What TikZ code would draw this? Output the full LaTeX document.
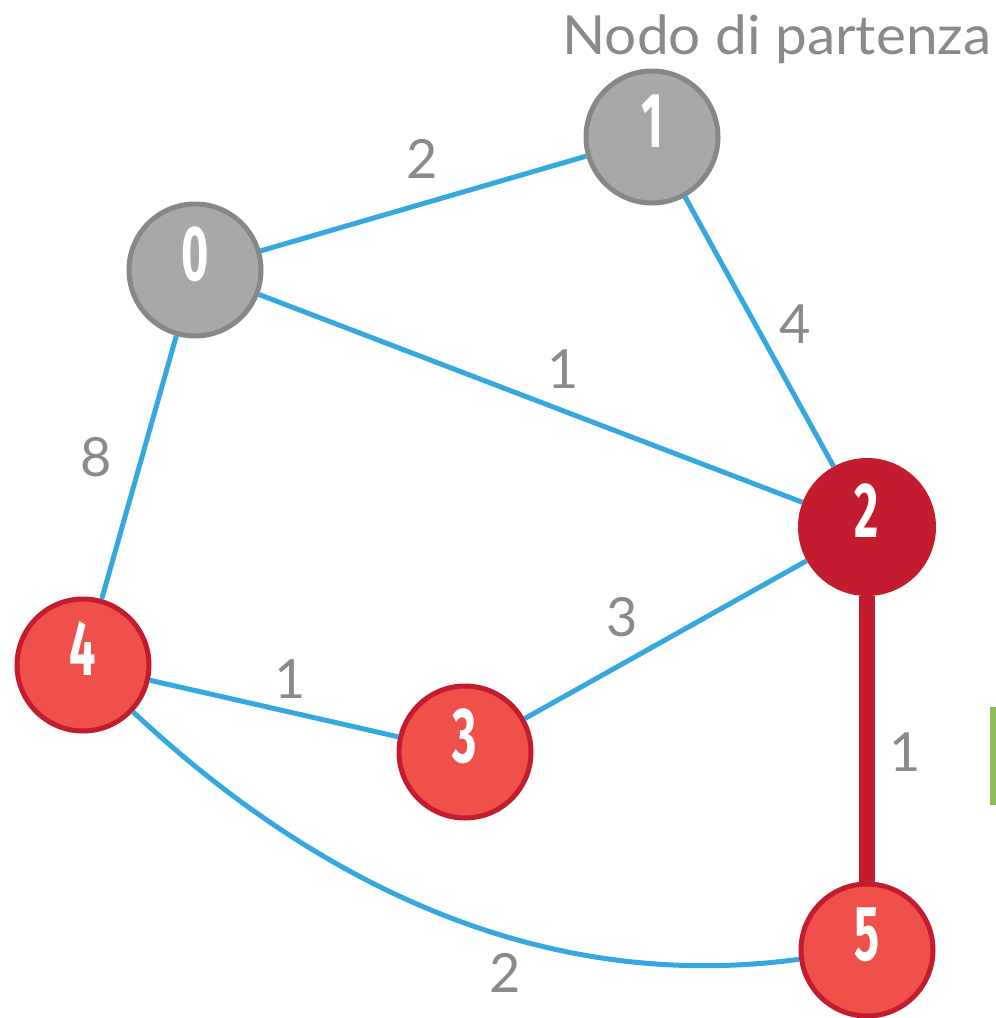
\documentclass[tikz,border=0pt]{standalone}
\usepackage{fontspec}
\setmainfont{Lato}
\newfontfamily\numfont{Fira Sans}
\usepackage{graphicx}
\definecolor{eblue}{HTML}{35A8DD}
\definecolor{gfill}{HTML}{A6A9A8}
\definecolor{gline}{HTML}{868887}
\definecolor{rfill}{HTML}{EF504A}
\definecolor{rline}{HTML}{C41C2F}
\definecolor{tgray}{HTML}{898B8B}
\definecolor{mgreen}{HTML}{8CBF5B}
\newcommand\cnum[1]{\scalebox{0.6}[1]{#1}}
\begin{document}
\begin{tikzpicture}[x=1pt,y=-1pt,
  edge/.style={draw=eblue,line width=5pt},
  redge/.style={draw=rline,line width=16pt},
  gnode/.style={circle,fill=gfill,draw=gline,line width=5pt,minimum size=132pt,inner sep=0pt},
  rnode/.style={circle,fill=rfill,draw=rline,line width=5pt,minimum size=132pt,inner sep=0pt},
  dnode/.style={circle,fill=rline,minimum size=138pt,inner sep=0pt},
  num/.style={anchor=base,text=white,font=\numfont\bfseries\fontsize{78}{78}\selectfont,inner sep=0pt},
  wlabel/.style={anchor=base,text=tgray,font=\fontsize{54}{54}\selectfont,inner sep=0pt}]
\useasboundingbox (0,0) rectangle (996,1018);

% nodes
\node[gnode] (n0) at (195,270) {};
\node[gnode] (n1) at (652,137) {};
\node[dnode] (n2) at (867,527) {};
\node[rnode] (n3) at (465,752) {};
\node[rnode] (n4) at (83,665) {};
\node[rnode] (n5) at (867,950) {};

% edges
\draw[edge] (n0) -- (n1);
\draw[edge] (n1) -- (n2);
\draw[edge] (n0) -- (n2);
\draw[edge] (n0) -- (n4);
\draw[edge] (n2) -- (n3);
\draw[edge] (n4) -- (n3);
\draw[edge] (n4) .. controls (270,840) and (500,1000) .. (n5);
\draw[redge] (n2) -- (n5);

% node numbers
\node[num] (t0) at (195,280) {\cnum{0}};
\node[num] (t1) at (652,147) {\cnum{1}};
\node[num] (t2) at (867,537) {\cnum{2}};
\node[num] (t3) at (465,762) {\cnum{3}};
\node[num] (t4) at (83,675) {\cnum{4}};
\node[num] (t5) at (867,960) {\cnum{5}};

% edge weights
\node[wlabel] (w01) at (422,178) {2};
\node[wlabel] (w12) at (795,343) {4};
\node[wlabel] (w02) at (563,388) {1};
\node[wlabel] (w04) at (96,476) {8};
\node[wlabel] (w23) at (622,636) {3};
\node[wlabel] (w43) at (290,698) {1};
\node[wlabel] (w25) at (905,771) {1};
\node[wlabel] (w45) at (505,992) {2};

% title
\node[wlabel] (title) at (777,54) {\scalebox{1.05}[1]{Nodo di partenza}};

% green marker
\fill[mgreen] (990,707) rectangle (996,805);
\end{tikzpicture}
\end{document}
